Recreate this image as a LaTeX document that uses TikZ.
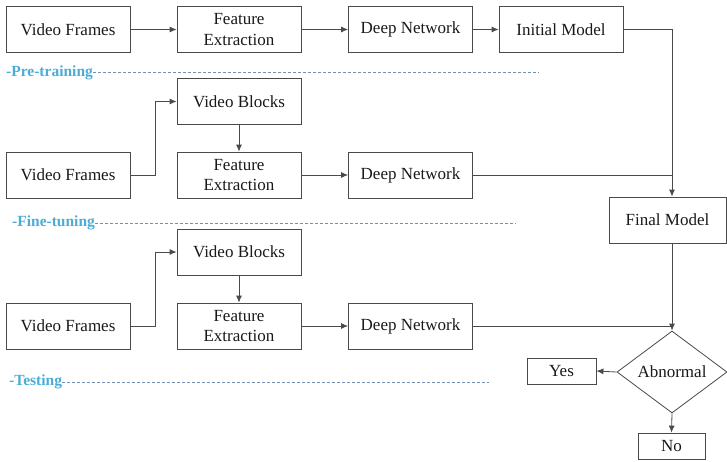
\documentclass[tikz,border=0pt]{standalone}
\usepackage{fontspec}
\newfontfamily\tnr{LiberationSerif}[Extension=.ttf, UprightFont=*-Regular, BoldFont=*-Bold]
\usetikzlibrary{shapes.geometric,arrows.meta}
\definecolor{lblue}{HTML}{4BACD6}
\definecolor{dashc}{HTML}{7090B4}
\definecolor{linec}{HTML}{4A4A4A}
\tikzset{
  box/.style={draw=linec, line width=0.8pt, rectangle, inner sep=0pt, minimum width=124pt, minimum height=46pt, align=center, font=\tnr\fontsize{17}{20.5}\selectfont, text=black!90},
  smallbox/.style={draw=linec, line width=0.8pt, rectangle, inner sep=0pt, minimum height=26pt, font=\tnr\fontsize{17}{20.5}\selectfont, text=black!90},
  conn/.style={draw=linec, line width=0.8pt},
  arr/.style={conn, -{Latex[length=7pt,width=6pt]}},
  phase/.style={anchor=west, inner sep=0pt, text=lblue, font=\tnr\fontsize{15.5}{18}\selectfont\bfseries},
  sep/.style={draw=dashc, line width=0.7pt, dash pattern=on 3pt off 2pt},
}
\begin{document}
\begin{tikzpicture}[x=1pt,y=-1pt]
\useasboundingbox (0,0) rectangle (727,461);
% row 1
\node[box] (vf1) at (68,29.5) {Video Frames};
\node[box] (fe1) at (239,29.5) {Feature\\Extraction};
\node[box] (dn1) at (410.5,29.5) {Deep Network};
\node[box] (im1) at (561,29.5) {Initial Model};
% row 2
\node[box] (vb2) at (239,101.5) {Video Blocks};
\node[box] (vf2) at (68,175) {Video Frames};
\node[box] (fe2) at (239,175) {Feature\\Extraction};
\node[box] (dn2) at (410.5,175) {Deep Network};
\node[box, minimum width=117pt] (fm) at (667.5,220) {Final Model};
% row 3
\node[box] (vb3) at (239,252) {Video Blocks};
\node[box] (vf3) at (68,326) {Video Frames};
\node[box] (fe3) at (239,326) {Feature\\Extraction};
\node[box] (dn3) at (410.5,326) {Deep Network};
\node[draw=linec, line width=0.8pt, diamond, aspect=1.34, inner sep=0pt, minimum width=110pt, minimum height=82pt, font=\tnr\fontsize{17}{20.5}\selectfont, text=black!90] (ab) at (672,372) {Abnormal};
\node[smallbox, minimum width=69pt] (yes) at (561.5,371) {Yes};
\node[smallbox, minimum width=67pt] (no) at (671.5,446) {No};
% junctions
\coordinate (j1) at (672,175);
\coordinate (j2) at (672,326);
% phase labels
\node[phase] (pt) at (6,73) {-Pre-training};
\coordinate (pte) at (539,72);
\draw[sep] (pt.east |- pte) -- (pte);
\node[phase] (ft) at (12,223) {-Fine-tuning};
\coordinate (fte) at (516,223);
\draw[sep] (ft.east |- fte) -- (fte);
\node[phase] (ts) at (9,382) {-Testing};
\coordinate (tse) at (489,382);
\draw[sep] (ts.east |- tse) -- (tse);
% connectors row 1
\draw[arr] (vf1) -- (fe1);
\draw[arr] (fe1) -- (dn1);
\draw[arr] (dn1) -- (im1);
\draw[arr] (im1.east) -| (j1) -- (j1 |- fm.north);
% row 2
\draw[arr] (vf2.east) -- ++(25,0) |- (vb2.west);
\draw[arr] (vb2) -- (fe2);
\draw[arr] (fe2) -- (dn2);
\draw[conn] (dn2.east) -- (j1);
% row 3
\draw[arr] (vf3.east) -- ++(25,0) |- (vb3.west);
\draw[arr] (vb3) -- (fe3);
\draw[arr] (fe3) -- (dn3);
\draw[conn] (dn3.east) -- (j2);
\draw[arr] (j1 |- fm.south) -- (ab.north);
\draw[arr] (ab.west) -- (yes.east);
\draw[arr] (ab.south) -- (no.north);
\end{tikzpicture}
\end{document}
